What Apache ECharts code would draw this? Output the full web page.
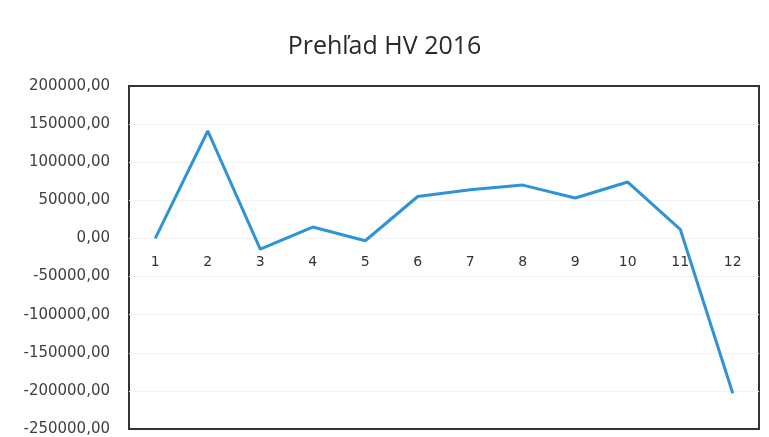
<!DOCTYPE html>
<html>
<head>
<meta charset="utf-8">
<script src="https://cdn.jsdelivr.net/npm/echarts@6/dist/echarts.min.js"></script>
<style>
  html, body { margin: 0; padding: 0; background: #fff; }
  #chart { width: 769px; height: 437px; }
</style>
</head>
<body>
<div id="chart"></div>
<script>
const months = ['1', '2', '3', '4', '5', '6', '7', '8', '9', '10', '11', '12']
const hv = [0, 141000, -14000, 15000, -3000, 55000, 64000, 70000, 53000, 74000, 12000, -203000]
const yMin = -250000
const yMax = 200000

const gridTop = 86
const gridBottom = 8
const chartHeight = 437
// category labels sit just under the zero line, like in Excel
const plotHeight = chartHeight - gridTop - gridBottom
const zeroOffset = -plotHeight * (0 - yMin) / (yMax - yMin)

const chart = echarts.init(document.getElementById('chart'))
chart.setOption({
  animation: false,
  title: {
    text: 'Prehľad HV 2016',
    left: 'center',
    top: 29,
    textStyle: { fontFamily: 'Open Sans', fontWeight: 'normal', fontSize: 25, color: '#2a2a2a' }
  },
  grid: {
    left: 129, top: gridTop, right: 10, bottom: gridBottom,
    show: true, borderColor: '#333', borderWidth: 2, backgroundColor: '#fff'
  },
  xAxis: {
    type: 'category',
    data: months,
    offset: zeroOffset,
    axisLine: { show: false, onZero: false },
    axisTick: { show: false },
    axisLabel: { margin: 17, fontFamily: 'DejaVu Sans', fontSize: 14, color: '#333' }
  },
  yAxis: {
    type: 'value',
    min: yMin,
    max: yMax,
    interval: 50000,
    axisLine: { show: false },
    axisTick: { show: false },
    splitLine: { showMinLine: false, showMaxLine: false, lineStyle: { color: '#f2f2f2' } },
    axisLabel: {
      margin: 19,
      fontFamily: 'DejaVu Sans',
      fontSize: 15,
      color: '#404040',
      formatter: v => v.toFixed(2).replace('.', ',')
    }
  },
  series: [{
    type: 'line',
    data: hv,
    symbol: 'none',
    lineStyle: { color: '#2f93d6', width: 3 }
  }]
})
window.addEventListener('resize', () => chart.resize())
</script>
</body>
</html>
